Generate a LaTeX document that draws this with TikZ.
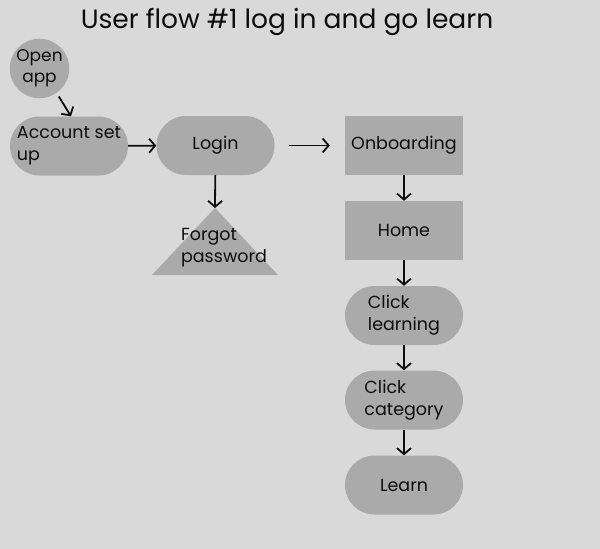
\documentclass[tikz,border=0pt]{standalone}
\usepackage{fontspec}
\setmainfont{Poppins}
\usetikzlibrary{arrows.meta}
\newlength{\du}
\setlength{\du}{1pt}
\definecolor{pagecolor}{rgb}{0.851, 0.851, 0.851}
\definecolor{shapecolor}{rgb}{0.667, 0.667, 0.667}
\definecolor{inkcolor}{rgb}{0.050, 0.050, 0.050}
\tikzset{
  stadium/.style={fill=shapecolor, rounded corners=29.5\du, minimum width=118\du, minimum height=59\du, inner sep=0pt, align=left, text=inkcolor, font=\fontsize{17.5}{22}\selectfont},
  boxnode/.style={fill=shapecolor, minimum width=118\du, minimum height=59\du, inner sep=0pt, text=inkcolor, font=\fontsize{17.5}{22}\selectfont},
  flow/.style={-{Straight Barb[length=6pt,width=14pt]}, line width=1.8\du, draw=inkcolor},
}

\begin{document}
\begin{tikzpicture}[yscale=-1]
% page
\fill[pagecolor] (0\du,0\du) rectangle (600\du,549\du);
\node[text=inkcolor, font=\fontsize{26.5}{30}\selectfont] (title) at (287\du,22\du){User flow \#1 log in and go learn};
% left column
\node[circle, fill=shapecolor, minimum size=59\du, inner sep=0pt, align=center, text=inkcolor, font=\fontsize{17}{21}\selectfont] (open) at (39.5\du,68.5\du){Open\\app};
\node[stadium] (account) at (69\du,146\du){Account set\\up};
\node[stadium] (login) at (215.5\du,145.5\du){Login};
% forgot password triangle
\fill[shapecolor] (215\du,208\du) -- (278\du,275\du) -- (152\du,275\du) -- cycle;
\coordinate (forgottop) at (215\du,208\du);
\node[align=left, text=inkcolor, font=\fontsize{17.5}{22}\selectfont] (forgot) at (224\du,248\du){Forgot\\password};
% right column
\node[boxnode] (onboard) at (404\du,145.5\du){Onboarding};
\node[boxnode] (home) at (404\du,230.5\du){Home};
\node[stadium] (clicklearn) at (404\du,315.5\du){Click\\learning};
\node[stadium] (clickcat) at (404\du,400\du){Click\\category};
\node[stadium] (learn) at (404\du,485\du){Learn};
% connectors
\draw[flow, shorten <=4pt] (open.-55) -- ([xshift=2pt]account.north);
\draw[flow] (account) -- (login);
\draw[flow] (login) -- (forgottop);
\draw[flow, shorten <=14pt, shorten >=15pt] (login) -- (onboard);
\draw[flow] (onboard) -- (home);
\draw[flow] (home) -- (clicklearn);
\draw[flow] (clicklearn) -- (clickcat);
\draw[flow] (clickcat) -- (learn);
\end{tikzpicture}
\end{document}
